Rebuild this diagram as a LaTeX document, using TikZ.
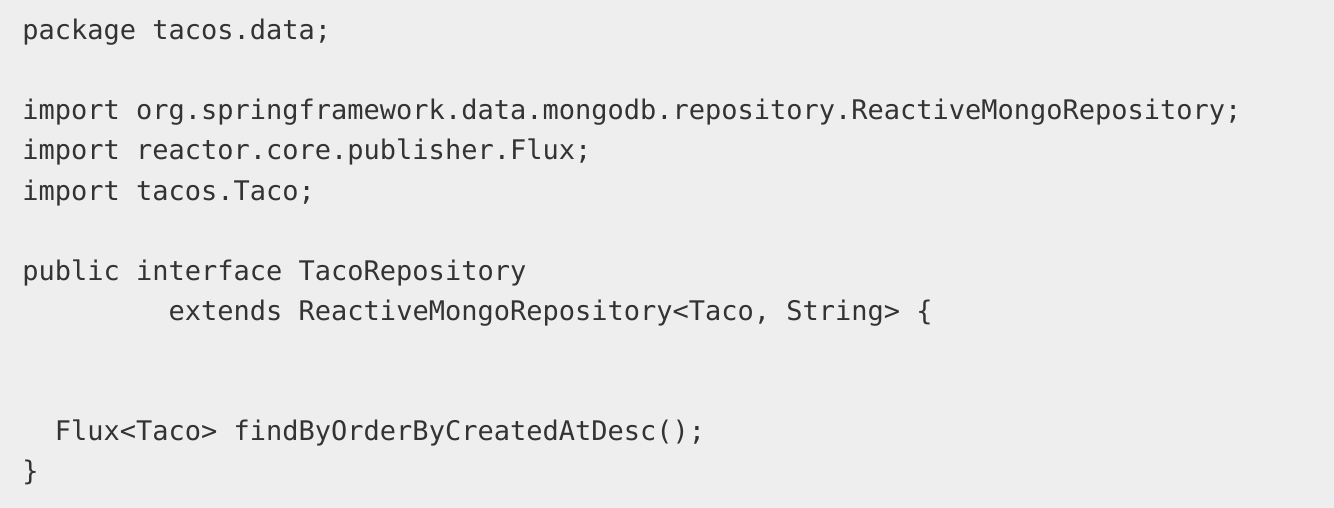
\documentclass[tikz,border=0pt]{standalone}
\usepackage{fontspec}
\setmonofont{DejaVu Sans Mono}
\usepackage{xcolor}
\usepackage{tikz}
\usetikzlibrary{positioning}
\definecolor{codebg}{HTML}{EEEEEE}
\definecolor{codetext}{HTML}{333333}

\begin{document}
\begin{tikzpicture}[x=0.5pt, y=-0.5pt,
    codeline/.style={anchor=base west, inner sep=0pt, text=codetext, font=\fontsize{13.5}{16}\selectfont\ttfamily}]
    % Background
    \fill[codebg] (0,0) rectangle (1334,508);
    \useasboundingbox (0,0) rectangle (1334,508);

    % Code lines
    \node[codeline] (pkg)   at (22,40)  {package tacos.data;};
    \node[codeline] (imp1)  at (22,120) {import org.springframework.data.mongodb.repository.ReactiveMongoRepository;};
    \node[codeline] (imp2)  at (22,160) {import reactor.core.publisher.Flux;};
    \node[codeline] (imp3)  at (22,200) {import tacos.Taco;};
    \node[codeline] (iface) at (22,280) {public interface TacoRepository};
    \node[codeline] (ext)   at (22,320) {\ \ \ \ \ \ \ \ \ extends ReactiveMongoRepository<Taco, String> \{};
    \node[codeline] (find)  at (22,440) {\ \ Flux<Taco> findByOrderByCreatedAtDesc();};
    \node[codeline] (close) at (22,480) {\}};
\end{tikzpicture}
\end{document}
